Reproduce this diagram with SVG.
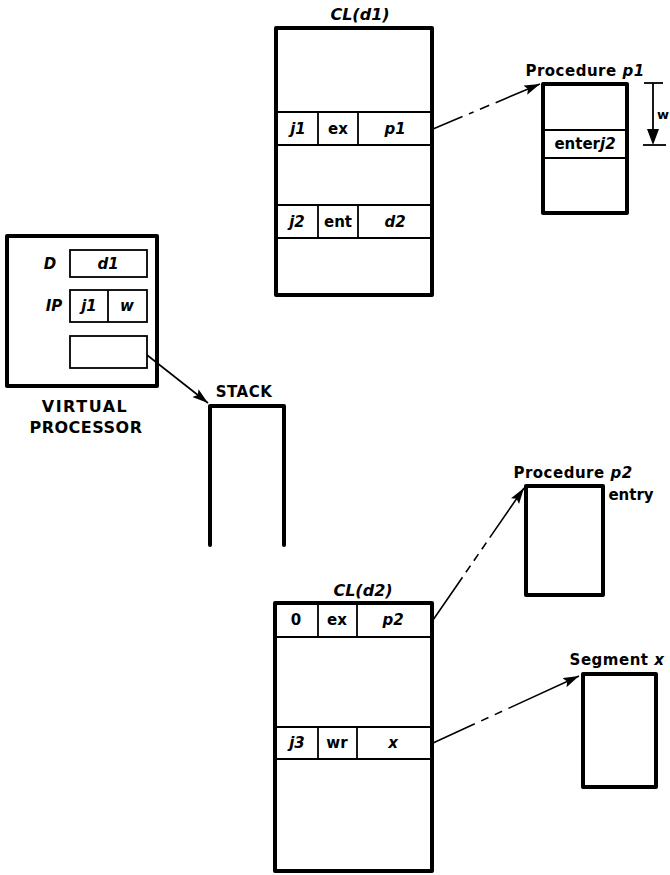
<svg xmlns="http://www.w3.org/2000/svg" width="670" height="875" viewBox="0 0 670 875">
<style>
.box{fill:none;stroke:#000;stroke-width:4;stroke-linejoin:round;stroke-linecap:round}
.cell{fill:none;stroke:#000;stroke-width:1.8}
.t{font-family:"DejaVu Sans","Liberation Sans",sans-serif;font-weight:bold;font-size:15px;fill:#000;text-anchor:middle}
.i{font-style:italic}
.conn{fill:none;stroke:#000;stroke-width:1.6}
</style>
<defs>
<marker id="ah" markerUnits="userSpaceOnUse" markerWidth="18" markerHeight="12" refX="16" refY="5" orient="auto">
<path d="M0,0 L16,5 L0,10 L3,5 Z" fill="#000"/>
</marker>
</defs>

<g id="cl-d1">
<text class="t i" x="360" y="20" style="font-size:16px">CL(d1)</text>
<rect class="box" x="276" y="28" width="156" height="267"/>
<line class="cell" x1="276" y1="112" x2="432" y2="112"/>
<line class="cell" x1="276" y1="145" x2="432" y2="145"/>
<line class="cell" x1="318" y1="112" x2="318" y2="145"/>
<line class="cell" x1="358" y1="112" x2="358" y2="145"/>
<line class="cell" x1="276" y1="205" x2="432" y2="205"/>
<line class="cell" x1="276" y1="238" x2="432" y2="238"/>
<line class="cell" x1="318" y1="205" x2="318" y2="238"/>
<line class="cell" x1="358" y1="205" x2="358" y2="238"/>
<text class="t i" x="298" y="134">j1</text>
<text class="t" x="338" y="134">ex</text>
<text class="t i" x="395" y="134">p1</text>
<text class="t i" x="297" y="227">j2</text>
<text class="t" x="338" y="227">ent</text>
<text class="t i" x="395" y="227">d2</text>
</g>

<g id="procedure-p1">
<text class="t" x="585" y="76" style="font-size:15px;letter-spacing:0.5px">Procedure <tspan class="i">p1</tspan></text>
<rect class="box" x="543" y="84" width="84" height="129"/>
<line class="cell" x1="543" y1="130" x2="627" y2="130"/>
<line class="cell" x1="543" y1="158" x2="627" y2="158"/>
<text class="t" x="585" y="149">enter<tspan class="i">j2</tspan></text>
<line class="cell" x1="644" y1="83" x2="663" y2="83"/>
<line class="cell" x1="643" y1="145" x2="666" y2="145"/>
<line class="cell" x1="653" y1="83" x2="653" y2="130"/>
<path d="M647,129 L659,129 L653,145 Z" fill="#000"/>
<text class="t" x="657" y="119" style="text-anchor:start;font-size:13px">w</text>
</g>

<g id="virtual-processor">
<rect class="box" x="7" y="236" width="150" height="150"/>
<text class="t i" x="50" y="269">D</text>
<rect class="cell" x="70" y="250" width="77" height="27"/>
<text class="t i" x="108" y="269">d1</text>
<text class="t i" x="54" y="311">IP</text>
<rect class="cell" x="70" y="290" width="77" height="32"/>
<line class="cell" x1="108" y1="290" x2="108" y2="322"/>
<text class="t i" x="89" y="311">j1</text>
<text class="t i" x="127" y="311">w</text>
<rect class="cell" x="70" y="336" width="77" height="32"/>
<text class="t" x="85" y="412" style="font-size:16px;letter-spacing:1.5px">VIRTUAL</text>
<text class="t" x="86" y="433" style="font-size:16px;letter-spacing:0.5px">PROCESSOR</text>
</g>

<g id="stack">
<text class="t" x="244" y="397" style="letter-spacing:0.5px">STACK</text>
<path class="box" d="M210,545 L210,406 L284,406 L284,545"/>
</g>

<g id="cl-d2">
<text class="t i" x="363" y="596" style="font-size:16px">CL(d2)</text>
<rect class="box" x="275" y="603" width="157" height="268"/>
<line class="cell" x1="275" y1="637" x2="432" y2="637"/>
<line class="cell" x1="318" y1="603" x2="318" y2="637"/>
<line class="cell" x1="357" y1="603" x2="357" y2="637"/>
<line class="cell" x1="275" y1="727" x2="432" y2="727"/>
<line class="cell" x1="275" y1="759" x2="432" y2="759"/>
<line class="cell" x1="318" y1="727" x2="318" y2="759"/>
<line class="cell" x1="357" y1="727" x2="357" y2="759"/>
<text class="t" x="296" y="625">0</text>
<text class="t" x="337" y="625">ex</text>
<text class="t i" x="393" y="625">p2</text>
<text class="t i" x="297" y="748">j3</text>
<text class="t" x="337" y="748">wr</text>
<text class="t i" x="393" y="748">x</text>
</g>

<g id="procedure-p2">
<text class="t" x="573" y="478" style="font-size:15px;letter-spacing:0.5px">Procedure <tspan class="i">p2</tspan></text>
<text class="t" x="631" y="500" style="font-size:15px">entry</text>
<rect class="box" x="526" y="486" width="77" height="109"/>
</g>

<g id="segment-x">
<text class="t" x="617" y="665" style="font-size:15px;letter-spacing:0.5px">Segment <tspan class="i">x</tspan></text>
<rect class="box" x="583" y="674" width="73" height="113"/>
</g>

<g id="connectors">
<path class="conn" d="M433,129 L540,84" stroke-dasharray="32 7 5 7 10 7 200" marker-end="url(#ah)"/>
<path class="conn" d="M147,355 L208,403" marker-end="url(#ah)"/>
<path class="conn" d="M433,620 L524,488" stroke-dasharray="52 6 8 6 8 6 8 6 200" marker-end="url(#ah)"/>
<path class="conn" d="M433,743 L579,676" stroke-dasharray="46 7 8 7 8 7 200" marker-end="url(#ah)"/>
</g>
</svg>
